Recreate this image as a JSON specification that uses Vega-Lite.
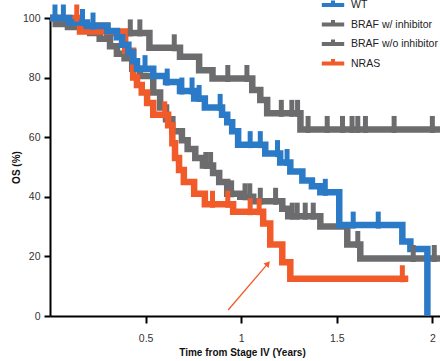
{
  "$schema": "https://vega.github.io/schema/vega-lite/v6.json",
  "width": 390,
  "height": 298,
  "autosize": {"type": "none"},
  "padding": {"left": 50, "top": 18, "right": 0, "bottom": 45},
  "background": "white",
  "config": {
    "view": {"stroke": null},
    "font": "Liberation Sans",
    "axis": {
      "grid": false,
      "domainColor": "#000",
      "domainWidth": 2,
      "tickColor": "#000",
      "tickWidth": 2,
      "tickSize": 6,
      "labelFont": "Liberation Sans",
      "labelFontSize": 10.5,
      "labelColor": "#333",
      "titleFont": "Liberation Sans",
      "titleFontSize": 10,
      "titleFontWeight": "bold",
      "titleColor": "#111"
    }
  },
  "datasets": {
    "curves": [
      {"g": "BRAF w/ inhibitor", "t": 0, "s": 100},
      {"g": "BRAF w/ inhibitor", "t": 0.06, "s": 98.5},
      {"g": "BRAF w/ inhibitor", "t": 0.14, "s": 97.5},
      {"g": "BRAF w/ inhibitor", "t": 0.3, "s": 95},
      {"g": "BRAF w/ inhibitor", "t": 0.52, "s": 90},
      {"g": "BRAF w/ inhibitor", "t": 0.68, "s": 87},
      {"g": "BRAF w/ inhibitor", "t": 0.78, "s": 82.5},
      {"g": "BRAF w/ inhibitor", "t": 0.85, "s": 79.7},
      {"g": "BRAF w/ inhibitor", "t": 1.058, "s": 75.8},
      {"g": "BRAF w/ inhibitor", "t": 1.1, "s": 72.5},
      {"g": "BRAF w/ inhibitor", "t": 1.136, "s": 68},
      {"g": "BRAF w/ inhibitor", "t": 1.31, "s": 62.6},
      {"g": "BRAF w/ inhibitor", "t": 2.04, "s": 62.6},
      {"g": "BRAF w/o inhibitor", "t": 0, "s": 100},
      {"g": "BRAF w/o inhibitor", "t": 0.03, "s": 98},
      {"g": "BRAF w/o inhibitor", "t": 0.094, "s": 97},
      {"g": "BRAF w/o inhibitor", "t": 0.21, "s": 95},
      {"g": "BRAF w/o inhibitor", "t": 0.26, "s": 93},
      {"g": "BRAF w/o inhibitor", "t": 0.314, "s": 90.5},
      {"g": "BRAF w/o inhibitor", "t": 0.35, "s": 88},
      {"g": "BRAF w/o inhibitor", "t": 0.39, "s": 86.5},
      {"g": "BRAF w/o inhibitor", "t": 0.43, "s": 83},
      {"g": "BRAF w/o inhibitor", "t": 0.47, "s": 80.5},
      {"g": "BRAF w/o inhibitor", "t": 0.54, "s": 75},
      {"g": "BRAF w/o inhibitor", "t": 0.576, "s": 70},
      {"g": "BRAF w/o inhibitor", "t": 0.607, "s": 66},
      {"g": "BRAF w/o inhibitor", "t": 0.64, "s": 62},
      {"g": "BRAF w/o inhibitor", "t": 0.69, "s": 59},
      {"g": "BRAF w/o inhibitor", "t": 0.72, "s": 56},
      {"g": "BRAF w/o inhibitor", "t": 0.76, "s": 53},
      {"g": "BRAF w/o inhibitor", "t": 0.8, "s": 50.5},
      {"g": "BRAF w/o inhibitor", "t": 0.853, "s": 48},
      {"g": "BRAF w/o inhibitor", "t": 0.885, "s": 45},
      {"g": "BRAF w/o inhibitor", "t": 0.927, "s": 41},
      {"g": "BRAF w/o inhibitor", "t": 0.995, "s": 40},
      {"g": "BRAF w/o inhibitor", "t": 1.063, "s": 38.5},
      {"g": "BRAF w/o inhibitor", "t": 1.215, "s": 36},
      {"g": "BRAF w/o inhibitor", "t": 1.246, "s": 33.5},
      {"g": "BRAF w/o inhibitor", "t": 1.414, "s": 30},
      {"g": "BRAF w/o inhibitor", "t": 1.555, "s": 24},
      {"g": "BRAF w/o inhibitor", "t": 1.623, "s": 19.3},
      {"g": "BRAF w/o inhibitor", "t": 2.04, "s": 19.3},
      {"g": "NRAS", "t": 0, "s": 100},
      {"g": "NRAS", "t": 0.157, "s": 95.5},
      {"g": "NRAS", "t": 0.393, "s": 89},
      {"g": "NRAS", "t": 0.435, "s": 80},
      {"g": "NRAS", "t": 0.455, "s": 77.5},
      {"g": "NRAS", "t": 0.48, "s": 75},
      {"g": "NRAS", "t": 0.508, "s": 71.5},
      {"g": "NRAS", "t": 0.54, "s": 67.5},
      {"g": "NRAS", "t": 0.618, "s": 64},
      {"g": "NRAS", "t": 0.64, "s": 58},
      {"g": "NRAS", "t": 0.654, "s": 53},
      {"g": "NRAS", "t": 0.675, "s": 49},
      {"g": "NRAS", "t": 0.7, "s": 45},
      {"g": "NRAS", "t": 0.754, "s": 41},
      {"g": "NRAS", "t": 0.81, "s": 37.5},
      {"g": "NRAS", "t": 0.958, "s": 35},
      {"g": "NRAS", "t": 1.115, "s": 31},
      {"g": "NRAS", "t": 1.152, "s": 24},
      {"g": "NRAS", "t": 1.215, "s": 18},
      {"g": "NRAS", "t": 1.257, "s": 12.5},
      {"g": "NRAS", "t": 1.874, "s": 12.5},
      {"g": "WT", "t": 0, "s": 100},
      {"g": "WT", "t": 0.1, "s": 98.5},
      {"g": "WT", "t": 0.194, "s": 97.3},
      {"g": "WT", "t": 0.3, "s": 95.6},
      {"g": "WT", "t": 0.35, "s": 93.5},
      {"g": "WT", "t": 0.377, "s": 91},
      {"g": "WT", "t": 0.41, "s": 88.5},
      {"g": "WT", "t": 0.435, "s": 85.5},
      {"g": "WT", "t": 0.455, "s": 83},
      {"g": "WT", "t": 0.54, "s": 80.5},
      {"g": "WT", "t": 0.607, "s": 78.5},
      {"g": "WT", "t": 0.68, "s": 75.5},
      {"g": "WT", "t": 0.754, "s": 73},
      {"g": "WT", "t": 0.81, "s": 70},
      {"g": "WT", "t": 0.9, "s": 67.5},
      {"g": "WT", "t": 0.927, "s": 65},
      {"g": "WT", "t": 0.953, "s": 62},
      {"g": "WT", "t": 0.984, "s": 57.5},
      {"g": "WT", "t": 1.126, "s": 54.5},
      {"g": "WT", "t": 1.204, "s": 51.5},
      {"g": "WT", "t": 1.257, "s": 48.5},
      {"g": "WT", "t": 1.32, "s": 45.5},
      {"g": "WT", "t": 1.37, "s": 43.5},
      {"g": "WT", "t": 1.414, "s": 41.5},
      {"g": "WT", "t": 1.513, "s": 30.5},
      {"g": "WT", "t": 1.843, "s": 25},
      {"g": "WT", "t": 1.885, "s": 22.5},
      {"g": "WT", "t": 1.974, "s": 0}
    ],
    "censor": [
      {"g": "BRAF w/ inhibitor", "t": 0.42, "s": 95},
      {"g": "BRAF w/ inhibitor", "t": 0.47, "s": 95},
      {"g": "BRAF w/ inhibitor", "t": 0.65, "s": 90},
      {"g": "BRAF w/ inhibitor", "t": 0.93, "s": 79.7},
      {"g": "BRAF w/ inhibitor", "t": 1.03, "s": 79.7},
      {"g": "BRAF w/ inhibitor", "t": 1.21, "s": 68},
      {"g": "BRAF w/ inhibitor", "t": 1.265, "s": 68},
      {"g": "BRAF w/ inhibitor", "t": 1.295, "s": 68},
      {"g": "BRAF w/ inhibitor", "t": 1.35, "s": 62.6},
      {"g": "BRAF w/ inhibitor", "t": 1.45, "s": 62.6},
      {"g": "BRAF w/ inhibitor", "t": 1.53, "s": 62.6},
      {"g": "BRAF w/ inhibitor", "t": 1.58, "s": 62.6},
      {"g": "BRAF w/ inhibitor", "t": 1.61, "s": 62.6},
      {"g": "BRAF w/ inhibitor", "t": 1.65, "s": 62.6},
      {"g": "BRAF w/ inhibitor", "t": 1.8, "s": 62.6},
      {"g": "BRAF w/ inhibitor", "t": 2.0, "s": 62.6},
      {"g": "BRAF w/o inhibitor", "t": 0.815, "s": 50.5},
      {"g": "BRAF w/o inhibitor", "t": 0.84, "s": 50.5},
      {"g": "BRAF w/o inhibitor", "t": 0.95, "s": 41},
      {"g": "BRAF w/o inhibitor", "t": 1.02, "s": 40},
      {"g": "BRAF w/o inhibitor", "t": 1.045, "s": 40},
      {"g": "BRAF w/o inhibitor", "t": 1.1, "s": 38.5},
      {"g": "BRAF w/o inhibitor", "t": 1.18, "s": 38.5},
      {"g": "BRAF w/o inhibitor", "t": 1.267, "s": 33.5},
      {"g": "BRAF w/o inhibitor", "t": 1.293, "s": 33.5},
      {"g": "BRAF w/o inhibitor", "t": 1.335, "s": 33.5},
      {"g": "BRAF w/o inhibitor", "t": 1.377, "s": 33.5},
      {"g": "BRAF w/o inhibitor", "t": 1.61, "s": 24},
      {"g": "BRAF w/o inhibitor", "t": 1.9, "s": 19.3},
      {"g": "BRAF w/o inhibitor", "t": 2.01, "s": 19.3},
      {"g": "NRAS", "t": 0.14, "s": 100},
      {"g": "NRAS", "t": 0.6, "s": 67.5},
      {"g": "NRAS", "t": 0.85, "s": 37.5},
      {"g": "NRAS", "t": 0.93, "s": 37.5},
      {"g": "NRAS", "t": 1.047, "s": 35},
      {"g": "NRAS", "t": 1.094, "s": 35},
      {"g": "NRAS", "t": 1.843, "s": 12.5},
      {"g": "WT", "t": 0.026, "s": 100},
      {"g": "WT", "t": 0.07, "s": 100},
      {"g": "WT", "t": 0.17, "s": 98.5},
      {"g": "WT", "t": 0.225, "s": 97.3},
      {"g": "WT", "t": 0.497, "s": 83},
      {"g": "WT", "t": 0.613, "s": 78.5},
      {"g": "WT", "t": 0.69, "s": 75.5},
      {"g": "WT", "t": 0.743, "s": 75.5},
      {"g": "WT", "t": 0.78, "s": 73},
      {"g": "WT", "t": 0.89, "s": 70},
      {"g": "WT", "t": 1.047, "s": 57.5},
      {"g": "WT", "t": 1.1, "s": 57.5},
      {"g": "WT", "t": 1.19, "s": 54.5},
      {"g": "WT", "t": 1.24, "s": 51.5},
      {"g": "WT", "t": 1.44, "s": 41.5},
      {"g": "WT", "t": 1.586, "s": 30.5},
      {"g": "WT", "t": 1.717, "s": 30.5}
    ],
    "arrow": [{"t": 0.932, "s": 2.0, "t2": 1.136, "s2": 17.3}],
    "head": [{"t": 1.14, "s": 17.6}]
  },
  "layer": [
    {
      "data": {"name": "curves"},
      "mark": {"type": "line", "interpolate": "step-after", "strokeWidth": 6.5, "strokeJoin": "miter", "strokeCap": "butt"},
      "encoding": {
        "x": {
          "field": "t", "type": "quantitative",
          "scale": {"domain": [0, 2.04], "nice": false, "zero": false},
          "axis": {"values": [0.5, 1, 1.5, 2], "labelExpr": "'' + datum.value", "tickSize": 7, "labelPadding": 10, "title": "Time from Stage IV (Years)", "titlePadding": 4, "titleX": 192}
        },
        "y": {
          "field": "s", "type": "quantitative",
          "scale": {"domain": [0, 100], "nice": false},
          "axis": {"values": [0, 20, 40, 60, 80, 100], "tickSize": 6, "labelPadding": 4, "title": "OS (%)", "titlePadding": 1}
        },
        "color": {
          "field": "g", "type": "nominal",
          "scale": {"domain": ["WT", "BRAF w/ inhibitor", "BRAF w/o inhibitor", "NRAS"], "range": ["#2a7ac7", "#6c6c6e", "#6c6c6e", "#f15a29"]},
          "legend": {
            "orient": "none", "legendX": 271, "legendY": -22, "title": null, "padding": 0,
            "symbolType": "M-1.6,0H1.6M0,0V-0.65", "symbolSize": 196, "symbolStrokeWidth": 4,
            "labelFont": "Liberation Sans", "labelFontSize": 10.5, "labelColor": "#222", "labelOffset": 9, "rowPadding": -1.5,
            "symbolOffset": 3
          }
        }
      }
    },
    {
      "data": {"name": "censor"},
      "mark": {"type": "tick", "orient": "vertical", "size": 17, "thickness": 5, "yOffset": -5, "opacity": 1},
      "encoding": {
        "x": {"field": "t", "type": "quantitative"},
        "y": {"field": "s", "type": "quantitative"},
        "color": {"field": "g", "type": "nominal", "legend": null}
      }
    },
    {
      "data": {"name": "arrow"},
      "mark": {"type": "rule", "color": "#f15a29", "strokeWidth": 1.3},
      "encoding": {
        "x": {"field": "t", "type": "quantitative"},
        "y": {"field": "s", "type": "quantitative"},
        "x2": {"field": "t2"},
        "y2": {"field": "s2"}
      }
    },
    {
      "data": {"name": "head"},
      "mark": {"type": "point", "shape": "triangle-up", "angle": 40, "filled": true, "size": 45, "color": "#f15a29", "opacity": 1},
      "encoding": {
        "x": {"field": "t", "type": "quantitative"},
        "y": {"field": "s", "type": "quantitative"}
      }
    }
  ]
}
